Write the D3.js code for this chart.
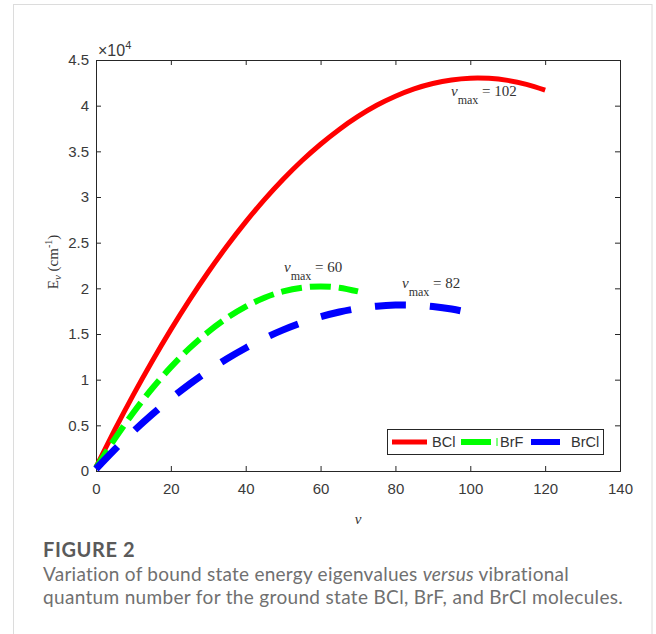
<!DOCTYPE html>
<html><head><meta charset="utf-8">
<script src="https://cdn.jsdelivr.net/npm/d3@7"></script>
<style>body{margin:0;background:#fff}svg{display:block}</style>
</head><body><svg id="c" width="656" height="634"></svg>
<script>
const vBCl = [0,5,10,15,20,25,30,35,40,45,50,55,60,65,70,75,80,85,90,95,100,105,110,115,120];
const eBCl = [418,4490,8360,12020,15480,18740,21790,24630,27270,29710,31940,33970,35780,37400,38820,40040,41035,41840,42430,42820,43010,42990,42770,42340,41710];
const vBrF = [0,5,10,15,20,25,30,35,40,45,50,55,60,65,70];
const eBrF = [333,3510,6400,9030,11370,13450,15240,16760,18000,18970,19660,20070,20210,20070,19660];
const vBrCl = [0,5,10,15,20,25,30,35,40,45,50,55,60,65,70,75,80,85,90,95,100];
const eBrCl = [220,2350,4340,6190,7920,9510,10960,12290,13470,14530,15450,16240,16890,17410,17800,18050,18170,18160,18010,17730,17310];
const xTicks = [0,20,40,60,80,100,120,140];
const yTicks = [0,0.5,1,1.5,2,2.5,3,3.5,4,4.5];
const seriesNames = ["BCl","BrF","BrCl"];
const annotations = [{label:"102", v:102, e:43000},{label:"60", v:60, e:20200},{label:"82", v:82, e:18200}];

const svg = d3.select("#c");
svg.append("rect").attr("x",13.5).attr("y",4.5).attr("width",638.5).attr("height",640).attr("fill","none").attr("stroke","#dcdcdc");

const L=96, R=620, T=60, B=471;
const x = d3.scaleLinear().domain([0,140]).range([L,R]);
const y = d3.scaleLinear().domain([0,4.5]).range([B,T]);
const axCol = "#262626";
const font = "'Liberation Sans', Arial, sans-serif";
const tfs = "15px";

const gx = svg.append("g").attr("transform",`translate(0,${B})`).call(d3.axisBottom(x).tickValues(xTicks).tickSize(-5).tickPadding(12));
const gy = svg.append("g").attr("transform",`translate(${L},0)`).call(d3.axisLeft(y).tickValues(yTicks).tickSize(-5).tickPadding(7).tickFormat(d=>String(d)));
const gxt = svg.append("g").attr("transform",`translate(0,${T})`).call(d3.axisTop(x).tickValues(xTicks).tickSize(-5).tickFormat(""));
const gyr = svg.append("g").attr("transform",`translate(${R},0)`).call(d3.axisRight(y).tickValues(yTicks).tickSize(-5).tickFormat(""));
[gx,gy,gxt,gyr].forEach(g=>{
  g.select(".domain").attr("stroke",axCol).attr("stroke-width",1);
  g.selectAll(".tick line").attr("stroke",axCol);
  g.selectAll("text").attr("fill","#3a3a3a").attr("font-family",font).attr("font-size",tfs);
});
const ex = svg.append("text").attr("x",98).attr("y",56).attr("fill","#3a3a3a").attr("font-family",font).attr("font-size","16px");
ex.append("tspan").text("×10");
ex.append("tspan").attr("dy",-7).attr("font-size","11px").text("4");

const line = d3.line().x(d=>x(d[0])).y(d=>y(d[1]/1e4)).curve(d3.curveNatural);
const mk = (vs,es)=>vs.map((v,i)=>[v,es[i]]);
svg.append("path").datum(mk(vBCl,eBCl)).attr("d",line).attr("fill","none").attr("stroke","#ff0000").attr("stroke-width",5);
svg.append("path").datum(mk(vBrF,eBrF)).attr("d",line).attr("fill","none").attr("stroke","#00ff00").attr("stroke-width",6).attr("stroke-dasharray","21,8");
svg.append("path").datum(mk(vBrCl,eBrCl)).attr("d",line).attr("fill","none").attr("stroke","#0000ff").attr("stroke-width",7).attr("stroke-dasharray","31,24");

const serif = "'Liberation Serif','Times New Roman',serif";
const annPos = [[451,96],[284,272],[402,288]];
annotations.forEach((a,i)=>{
  const t = svg.append("text").attr("x",annPos[i][0]).attr("y",annPos[i][1]).attr("fill","#333").attr("font-family",serif).attr("font-size","15px");
  t.append("tspan").attr("font-style","italic").text("ν");
  t.append("tspan").attr("dy",8).attr("font-size","12px").text("max");
  t.append("tspan").attr("dy",-8).text(" = "+a.label);
});

const yl = svg.append("text").attr("transform","translate(58,262) rotate(-90)").attr("text-anchor","middle").attr("fill","#333").attr("font-family",serif).attr("font-size","15px");
yl.append("tspan").text("E");
yl.append("tspan").attr("dy",3).attr("font-size","11px").attr("font-style","italic").text("ν");
yl.append("tspan").attr("dy",-3).text(" (cm");
yl.append("tspan").attr("dy",-6).attr("font-size","10px").text("-1");
yl.append("tspan").attr("dy",6).text(")");
svg.append("text").attr("x",358).attr("y",524).attr("text-anchor","middle").attr("fill","#333").attr("font-family",serif).attr("font-style","italic").attr("font-size","15px").text("ν");

svg.append("rect").attr("x",387.5).attr("y",429.5).attr("width",216).attr("height",25).attr("fill","#fff").attr("stroke",axCol);
const legCols = ["#ff0000","#00ff00","#0000ff"];
const legLine = [[392,427],[461,491],[531,560]];
const legText = [432,500,571];
seriesNames.forEach((n,i)=>{
  svg.append("line").attr("x1",legLine[i][0]).attr("x2",legLine[i][1]).attr("y1",442).attr("y2",442).attr("stroke",legCols[i]).attr("stroke-width",i==0?5:6);
  svg.append("text").attr("x",legText[i]).attr("y",447).attr("fill","#333").attr("font-family",font).attr("font-size","14.5px").text(n);
});
svg.append("line").attr("x1",497).attr("x2",497).attr("y1",438).attr("y2",446).attr("stroke","#00ff00").attr("stroke-width",1);

const cf = "Lato, 'Open Sans', sans-serif";
svg.append("text").attr("x",43).attr("y",557).attr("fill","#5a5a5a").attr("font-family",cf).attr("font-size","20px").attr("font-weight","700").attr("letter-spacing","0.6px").text("FIGURE 2");
const c1 = svg.append("text").attr("x",43).attr("y",581).attr("fill","#707070").attr("font-family",cf).attr("font-size","19px").attr("letter-spacing","0.25px");
c1.append("tspan").text("Variation of bound state energy eigenvalues ");
c1.append("tspan").attr("font-style","italic").text("versus");
c1.append("tspan").text(" vibrational");
svg.append("text").attr("x",43).attr("y",604).attr("fill","#707070").attr("font-family",cf).attr("font-size","19px").attr("letter-spacing","0.33px").text("quantum number for the ground state BCl, BrF, and BrCl molecules.");
</script></body></html>
